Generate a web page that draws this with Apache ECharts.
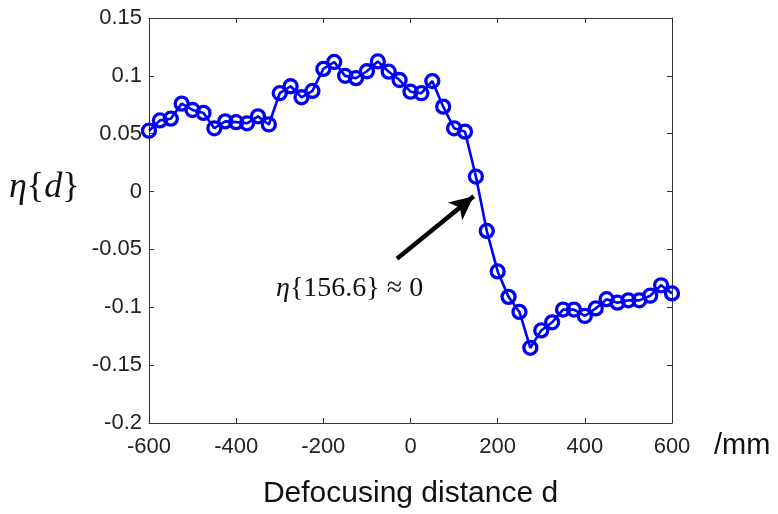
<!DOCTYPE html>
<html>
<head>
<meta charset="utf-8">
<script src="https://cdn.jsdelivr.net/npm/echarts@6/dist/echarts.min.js"></script>
<style>
html,body{margin:0;padding:0;background:#fff;}
#chart{width:778px;height:514px;}
</style>
</head>
<body>
<div id="chart"></div>
<script>
// Defocusing distance d (mm)
var distances = [-600,-575,-550,-525,-500,-475,-450,-425,-400,-375,-350,-325,-300,-275,-250,-225,-200,-175,-150,-125,-100,-75,-50,-25,0,25,50,75,100,125,150,175,200,225,250,275,300,325,350,375,400,425,450,475,500,525,550,575,600];
// eta{d}
var etaValues = [0.0526,0.0615,0.063,0.076,0.0705,0.068,0.0547,0.0607,0.06,0.059,0.065,0.058,0.085,0.091,0.0815,0.087,0.106,0.112,0.1,0.098,0.104,0.1125,0.1036,0.0964,0.0863,0.085,0.0955,0.0734,0.0547,0.0518,0.013,-0.034,-0.069,-0.091,-0.104,-0.135,-0.12,-0.113,-0.102,-0.102,-0.1075,-0.101,-0.093,-0.096,-0.094,-0.094,-0.09,-0.081,-0.088];
// arrow: tail and head in data coordinates
var arrowTail = [-31, -0.058];
var arrowHead = [145, -0.004];

var seriesData = distances.map(function(d, i){ return [d, etaValues[i]]; });

var chart = echarts.init(document.getElementById('chart'));
var axisColor = '#333';
var labelFont = 'Liberation Sans, Arial, sans-serif';
var serifFont = 'Liberation Serif, Times New Roman, serif';
function fmt(v){ return String(parseFloat(v.toFixed(2))); }

chart.setOption({
  animation: false,
  backgroundColor: '#fff',
  grid: {left: 149, right: 106, top: 18, bottom: 91, show: false},
  xAxis: [{
    type: 'value', min: -600, max: 600, interval: 200, position: 'bottom',
    axisLine: {show: true, onZero: false, lineStyle: {color: axisColor, width: 1}},
    axisTick: {show: true, inside: true, length: 5, lineStyle: {color: axisColor}},
    axisLabel: {color: '#222', fontSize: 22, fontFamily: labelFont, margin: 13, showMinLabel: true, showMaxLabel: true},
    splitLine: {show: false},
    name: 'Defocusing distance d', nameLocation: 'middle', nameGap: 56,
    nameTextStyle: {color: '#111', fontSize: 30, fontFamily: labelFont}
  }, {
    type: 'value', min: -600, max: 600, interval: 200, position: 'top',
    axisLine: {show: true, onZero: false, lineStyle: {color: axisColor, width: 1}},
    axisTick: {show: true, inside: true, length: 5, lineStyle: {color: axisColor}},
    axisLabel: {show: false}, splitLine: {show: false}
  }],
  yAxis: [{
    type: 'value', min: -0.2, max: 0.15, interval: 0.05, position: 'left',
    axisLine: {show: true, onZero: false, lineStyle: {color: axisColor, width: 1}},
    axisTick: {show: true, inside: true, length: 5, lineStyle: {color: axisColor}},
    axisLabel: {color: '#222', fontSize: 22, fontFamily: labelFont, margin: 7, formatter: fmt, showMinLabel: true, showMaxLabel: true},
    splitLine: {show: false}
  }, {
    type: 'value', min: -0.2, max: 0.15, interval: 0.05, position: 'right',
    axisLine: {show: true, onZero: false, lineStyle: {color: axisColor, width: 1}},
    axisTick: {show: true, inside: true, length: 5, lineStyle: {color: axisColor}},
    axisLabel: {show: false}, splitLine: {show: false}
  }],
  series: [{
    type: 'line',
    xAxisIndex: 0, yAxisIndex: 0,
    data: seriesData,
    symbol: 'circle',
    symbolSize: 13,
    lineStyle: {color: '#0000f5', width: 2.6},
    itemStyle: {color: 'rgba(255,255,255,0)', borderColor: '#0000f5', borderWidth: 3.3},
    z: 3,
    markLine: {
      silent: true,
      symbol: ['none', 'arrow'],
      symbolSize: [17, 24],
      label: {show: false},
      lineStyle: {color: '#000', width: 4.5, type: 'solid'},
      data: [[{coord: arrowTail}, {coord: arrowHead}]]
    }
  }],
  graphic: [{
    type: 'text', left: 9, top: 170,
    style: {
      text: '{i|η}{{i|d}}',
      fontFamily: serifFont, fontSize: 36, fill: '#111',
      rich: {
        i: {fontFamily: serifFont, fontStyle: 'italic', fontSize: 36, fill: '#111'}
      }
    }
  }, {
    type: 'text', left: 276, top: 275,
    style: {
      text: '{i|η}{156.6} ≈ 0',
      fontFamily: serifFont, fontSize: 28, fill: '#111',
      rich: {
        i: {fontFamily: serifFont, fontStyle: 'italic', fontSize: 28, fill: '#111'}
      }
    }
  }, {
    type: 'text', left: 714, top: 431,
    style: {text: '/mm', fontFamily: labelFont, fontSize: 29, fill: '#111'}
  }]
});
</script>
</body>
</html>
